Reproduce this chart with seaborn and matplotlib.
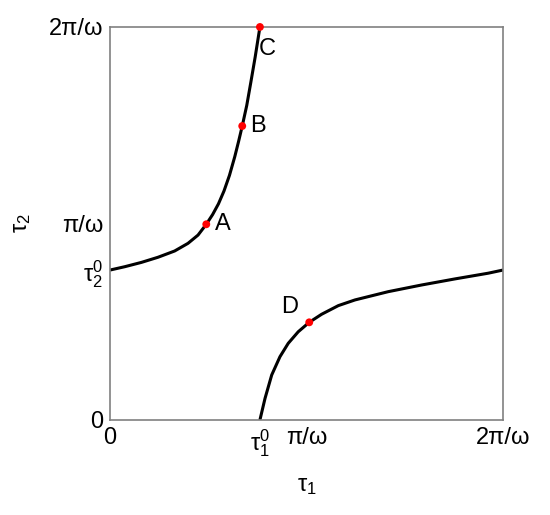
import numpy as np
import pandas as pd
import matplotlib
matplotlib.use('Agg')
import matplotlib.pyplot as plt
import seaborn as sns

# values in units of pi/omega
UPPER_T1 = [0.0, 0.075, 0.160, 0.244, 0.329, 0.397, 0.448, 0.490, 0.522, 0.552,
            0.580, 0.608, 0.635, 0.655, 0.673, 0.696, 0.717, 0.739, 0.763]
UPPER_T2 = [0.763, 0.780, 0.802, 0.828, 0.860, 0.899, 0.941, 0.996, 1.045, 1.100,
            1.165, 1.245, 1.340, 1.420, 1.496, 1.601, 1.720, 1.848, 2.0]
LOWER_T1 = [0.763, 0.789, 0.823, 0.865, 0.907, 0.958, 1.014, 1.077, 1.162, 1.247,
            1.416, 1.586, 1.756, 1.925, 2.0]
LOWER_T2 = [0.0, 0.110, 0.229, 0.322, 0.390, 0.449, 0.497, 0.538, 0.582, 0.611,
            0.653, 0.687, 0.718, 0.747, 0.763]

POINT_NAMES = ['A', 'B', 'C', 'D']
POINT_T1 = [0.490, 0.673, 0.763, 1.014]
POINT_T2 = [0.996, 1.496, 2.0, 0.497]

TAU1_0 = 0.763
TAU2_0 = 0.763
XTICKS = [0, TAU1_0, 1, 2]
XTICK_LABELS = ['0', r'$\mathregular{τ_1^0}$', 'π/ω', '2π/ω']
YTICKS = [0, TAU2_0, 1, 2]
YTICK_LABELS = ['0', r'$\mathregular{τ_2^0}$', 'π/ω', '2π/ω']


def main():
    sns.set_style('white')
    plt.rcParams['font.family'] = ['Liberation Sans', 'DejaVu Sans']
    plt.rcParams['mathtext.fontset'] = 'custom'
    plt.rcParams['mathtext.rm'] = 'Liberation Sans'
    plt.rcParams['text.color'] = 'black'
    plt.rcParams['xtick.color'] = 'black'
    plt.rcParams['ytick.color'] = 'black'
    plt.rcParams['axes.labelcolor'] = 'black'

    fig = plt.figure(figsize=(5.5, 5.15), dpi=100)
    ax = fig.add_axes([0.2, 0.1845, 0.7145, 0.7631])

    upper = pd.DataFrame({'t1': UPPER_T1, 't2': UPPER_T2})
    lower = pd.DataFrame({'t1': LOWER_T1, 't2': LOWER_T2})
    for df in (upper, lower):
        sns.lineplot(data=df, x='t1', y='t2', sort=False, color='black',
                     linewidth=2.2, ax=ax, estimator=None,
                     solid_joinstyle='round', solid_capstyle='butt')

    pts = pd.DataFrame({'t1': POINT_T1, 't2': POINT_T2, 'name': POINT_NAMES})
    sns.scatterplot(data=pts, x='t1', y='t2', color='red', s=32,
                    edgecolor='none', zorder=5, clip_on=False, ax=ax)

    # label offsets (dx, dy, ha)
    offsets = {'A': (0.045, 0.0, 'left'), 'B': (0.042, 0.0, 'left'),
               'C': (-0.005, -0.11, 'left'), 'D': (-0.1, 0.077, 'center')}
    for _, row in pts.iterrows():
        dx, dy, ha = offsets[row['name']]
        ax.text(row['t1'] + dx, row['t2'] + dy, row['name'], fontsize=17,
                ha=ha, va='center', color='black')

    ax.set_xlim(0, 2)
    ax.set_ylim(0, 2)
    ax.set_xticks(XTICKS)
    ax.set_xticklabels(XTICK_LABELS, fontsize=17)
    ax.set_yticks(YTICKS)
    ax.set_yticklabels(YTICK_LABELS, fontsize=17)
    ax.tick_params(direction='in', length=5, width=1, color='#808080', pad=5)
    for sp in ax.spines.values():
        sp.set_color('#808080')
        sp.set_linewidth(1.2)
        sp.set_visible(True)

    ax.set_xlabel(r'$\mathregular{τ_1}$', fontsize=17, labelpad=12)
    ax.set_ylabel(r'$\mathregular{τ_2}$', fontsize=17, labelpad=11)

    fig.savefig('out.png', dpi=100)


if __name__ == '__main__':
    main()
